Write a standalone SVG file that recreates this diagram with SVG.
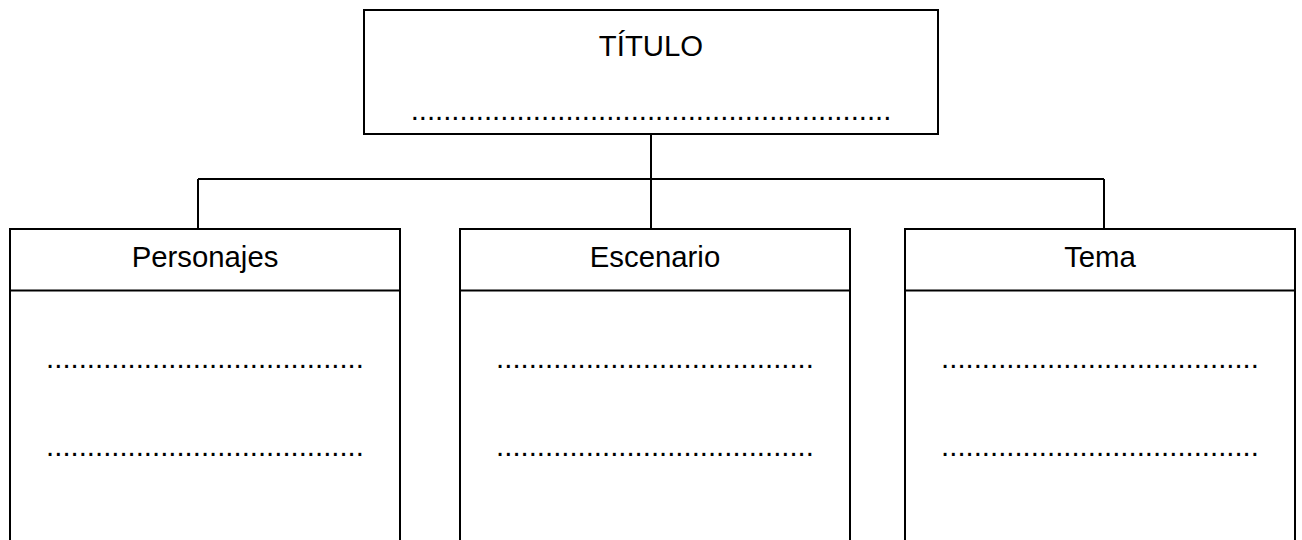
<svg xmlns="http://www.w3.org/2000/svg" width="1302" height="540" viewBox="0 0 1302 540">
<style>
.box{fill:#fff;stroke:#000;stroke-width:2}
.ln{fill:none;stroke:#000;stroke-width:2}
text{font-family:"Liberation Sans",Arial,sans-serif;font-size:29.33px;fill:#000;text-anchor:middle}
</style>
<rect width="1302" height="540" fill="#fff"/>
<g id="connectors">
<path class="ln" d="M651 134V179M198 179H1104M198 179V229M651 179V229M1104 179V229"/>
</g>
<g id="titulo">
<rect class="box" x="364" y="10" width="574" height="124"/>
<text x="651" y="56">TÍTULO</text>
<text x="651" y="120">...........................................................</text>
</g>
<g id="personajes">
<rect class="box" x="10" y="229" width="390" height="330"/>
<line class="ln" x1="10" y1="290.5" x2="400" y2="290.5"/>
<text x="205" y="267">Personajes</text>
<text x="205" y="368">.......................................</text>
<text x="205" y="456">.......................................</text>
</g>
<g id="escenario">
<rect class="box" x="460" y="229" width="390" height="330"/>
<line class="ln" x1="460" y1="290.5" x2="850" y2="290.5"/>
<text x="655" y="267">Escenario</text>
<text x="655" y="368">.......................................</text>
<text x="655" y="456">.......................................</text>
</g>
<g id="tema">
<rect class="box" x="905" y="229" width="390" height="330"/>
<line class="ln" x1="905" y1="290.5" x2="1295" y2="290.5"/>
<text x="1100" y="267">Tema</text>
<text x="1100" y="368">.......................................</text>
<text x="1100" y="456">.......................................</text>
</g>
</svg>
